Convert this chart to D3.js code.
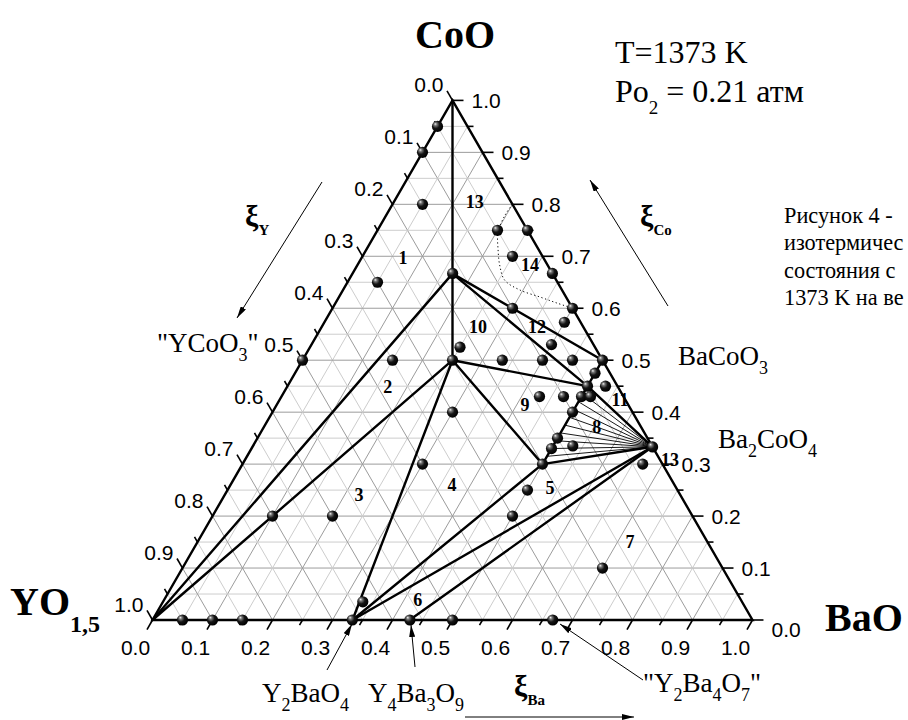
<!DOCTYPE html>
<html><head><meta charset="utf-8">
<script src="https://cdn.jsdelivr.net/npm/d3@7"></script>
<style>html,body{margin:0;padding:0;background:#fff;} svg{display:block;}</style>
</head><body>
<svg id="chart" width="908" height="720"></svg>
<script>
// ---------- DATA ----------
const tickValues = [0,0.1,0.2,0.3,0.4,0.5,0.6,0.7,0.8,0.9,1.0];
const tickLabels = ["0.0","0.1","0.2","0.3","0.4","0.5","0.6","0.7","0.8","0.9","1.0"];
const minorTickValues = [0.05,0.15,0.25,0.35,0.45,0.55,0.65,0.75,0.85,0.95];
const gridValues = [0.05,0.1,0.15,0.2,0.25,0.3,0.35,0.4,0.45,0.5,0.55,0.6,0.65,0.7,0.75,0.8,0.85,0.9,0.95];

// experimental compositions (mole fraction BaO, CoO)
const pointBa = [0,0,0.05,0.2,0.25,0.25,0.333,0.4,0.3,0.4,0.4,0.4,0.45,0.5,0.5,0.5,0.53,0.43,0.47,0.5,0.515,0.5,0.5,0.5,0.533,0.5,0.667,0.5,0.5,0.7,0.5,0.667,0.05,0.1,0.15,0.333,0.333,0.429,0.05,0,0.15,0.25,0.25,0.333,0.3,0.3,0.1,0.2,0.1667,0.667];
const pointCo = [0.95,0.9,0.8,0.75,0.75,0.7,0.667,0.6,0.6,0.573,0.53,0.5,0.5,0.5,0.475,0.45,0.45,0.43,0.43,0.43,0.43,0.4,0.35,0.33,0.335,0.3,0.3,0.25,0.2,0.1,0,0,0,0,0,0,0.035,0,0.65,0.5,0.5,0.525,0.5,0.5,0.4,0.3,0.2,0.2,0.667,0.333];

// phase nodes
const nodeNames = ["YO","BaO","CoO","YBaCo4O7","YBaCo2O5","C","D","BaCoO3","Ba2CoO4","Y2BaO4","Y4Ba3O9"];
const nodeBa = [0,1,0,1/6,0.25,0.5,0.5,0.5,2/3,1/3,3/7];
const nodeCo = [0,0,1,2/3,0.5,0.45,0.3,0.5,1/3,0,0];

// phase boundaries (pairs of node names)
const boundaryFrom = ["CoO","YBaCo4O7","YO","YO","YBaCo2O5","YBaCo4O7","YBaCo4O7","YBaCo2O5","YBaCo2O5","D","C","D","D","Ba2CoO4","Ba2CoO4"];
const boundaryTo   = ["YBaCo4O7","YBaCo2O5","YBaCo4O7","YBaCo2O5","Y2BaO4","BaCoO3","C","C","D","BaCoO3","Ba2CoO4","Ba2CoO4","Y2BaO4","Y2BaO4","Y4Ba3O9"];

// tie lines from Ba2CoO4 to the Ba=0.5 line (CoO fraction)
const tieLineCo = [0.315,0.33,0.345,0.36,0.375,0.39,0.405,0.42,0.435];

// dotted boundary of field 14
const dottedBa = [0.2,0.198,0.2025,0.22,0.2385,0.26,0.295,0.335,0.369,0.4];
const dottedCo = [0.8,0.779,0.747,0.712,0.681,0.654,0.635,0.6216,0.61,0.6];

// field numbers
const regionText = ["1","2","3","4","5","6","7","8","9","10","11","12","13","13","14"];
const regionBa = [0.069,0.168,0.224,0.369,0.5355,0.423,0.721,0.555,0.414,0.2605,0.5675,0.3588,0.135,0.7085,0.2875];
const regionCo = [0.697,0.448,0.2406,0.26,0.254,0.0385,0.15,0.371,0.414,0.564,0.423,0.564,0.804,0.308,0.683];

// caption lines (as visible)
const captionLines = ["Рисунок 4 -","изотермичес","состояния с","1373 K на ве"];

// ---------- SETUP ----------
const svg = d3.select("#chart");
const X = d3.scaleLinear().domain([0,1]).range([152.5,752.5]);
const Yc = d3.scaleLinear().domain([0,1]).range([620,620-519.6]);
const px = (ba,co) => X(ba + co/2);
const py = (ba,co) => Yc(co);
const serif = "'Liberation Serif','Times New Roman',serif";
const sans = "'Liberation Sans',Arial,sans-serif";

const defs = svg.append("defs");
const grad = defs.append("radialGradient").attr("id","ball").attr("cx","0.4").attr("cy","0.4").attr("r","0.6").attr("fx","0.3").attr("fy","0.28");
grad.append("stop").attr("offset","0%").attr("stop-color","#f4f4f4");
grad.append("stop").attr("offset","22%").attr("stop-color","#777");
grad.append("stop").attr("offset","55%").attr("stop-color","#151515");
grad.append("stop").attr("offset","100%").attr("stop-color","#000");
defs.append("marker").attr("id","arr").attr("viewBox","0 0 12 6").attr("refX",12).attr("refY",3)
  .attr("markerWidth",12).attr("markerHeight",6).attr("markerUnits","userSpaceOnUse").attr("orient","auto")
  .append("path").attr("d","M0,0 L12,3 L0,6 Z").attr("fill","#000");

// ---------- GRID ----------
const grid = svg.append("g");
gridValues.forEach(v => {
  const major = Math.abs(v*10 - Math.round(v*10)) < 1e-6;
  const col = major ? "#9c9c9c" : "#cdcdcd";
  grid.append("line").attr("x1",px(0,v)).attr("y1",py(0,v)).attr("x2",px(1-v,v)).attr("y2",py(1-v,v)).attr("stroke",col).attr("stroke-width",1);
  grid.append("line").attr("x1",px(v,0)).attr("y1",py(v,0)).attr("x2",px(v,1-v)).attr("y2",py(v,1-v)).attr("stroke",col).attr("stroke-width",1);
  grid.append("line").attr("x1",px(1-v,0)).attr("y1",py(1-v,0)).attr("x2",px(0,1-v)).attr("y2",py(0,1-v)).attr("stroke",col).attr("stroke-width",1);
});

// ---------- TIE LINES ----------
const g2 = svg.append("g");
tieLineCo.forEach(c => {
  g2.append("line").attr("x1",px(2/3,1/3)).attr("y1",py(2/3,1/3)).attr("x2",px(0.5,c)).attr("y2",py(0.5,c))
    .attr("stroke","#000").attr("stroke-width",0.9);
});

// dotted
svg.append("path").datum(dottedBa.map((b,i)=>[px(b,dottedCo[i]),py(b,dottedCo[i])]))
  .attr("d",d3.line().curve(d3.curveCatmullRom)).attr("fill","none").attr("stroke","#000").attr("stroke-width",1).attr("stroke-dasharray","1.2,2.6");

// ---------- BOUNDARIES ----------
const idx = n => nodeNames.indexOf(n);
boundaryFrom.forEach((f,i) => {
  const a = idx(f), b = idx(boundaryTo[i]);
  svg.append("line").attr("x1",px(nodeBa[a],nodeCo[a])).attr("y1",py(nodeBa[a],nodeCo[a]))
    .attr("x2",px(nodeBa[b],nodeCo[b])).attr("y2",py(nodeBa[b],nodeCo[b]))
    .attr("stroke","#000").attr("stroke-width",2.4).attr("stroke-linecap","round");
});

svg.append("path").attr("d",`M${px(0,0)},${py(0,0)}L${px(1,0)},${py(1,0)}L${px(0,1)},${py(0,1)}Z`)
  .attr("fill","none").attr("stroke","#000").attr("stroke-width",2.4).attr("stroke-linejoin","miter");

// ---------- TICKS ----------
const axes = [
  {pt: v => [px(v,0),py(v,0)], dir:[-0.5,0.866]},
  {pt: v => [px(1-v,v),py(1-v,v)], dir:[1,0]},
  {pt: v => [px(0,1-v),py(0,1-v)], dir:[-0.5,-0.866]}
];
const tg = svg.append("g").attr("stroke","#000").attr("stroke-width",1.6);
axes.forEach(ax => {
  tickValues.forEach(v => { const [x,y]=ax.pt(v); tg.append("line").attr("x1",x).attr("y1",y).attr("x2",x+ax.dir[0]*11).attr("y2",y+ax.dir[1]*11); });
  minorTickValues.forEach(v => { const [x,y]=ax.pt(v); tg.append("line").attr("x1",x).attr("y1",y).attr("x2",x+ax.dir[0]*6).attr("y2",y+ax.dir[1]*6); });
});
const lab = svg.append("g").attr("font-family",sans).attr("font-size",21).attr("fill","#000");
tickValues.forEach((v,i) => {
  let [x,y] = axes[0].pt(v);
  lab.append("text").attr("x",x-17).attr("y",y+35).attr("text-anchor","middle").text(tickLabels[i]);
  [x,y] = axes[1].pt(v);
  lab.append("text").attr("x",x+19).attr("y",y+7.5 + (v===0?9:0)).attr("text-anchor","start").text(tickLabels[i]);
  [x,y] = axes[2].pt(v);
  lab.append("text").attr("x",x-9).attr("y",y-8).attr("text-anchor","end").text(tickLabels[i]);
});

// ---------- POINTS ----------
svg.append("g").selectAll("circle").data(pointBa).join("circle")
  .attr("cx",(d,i)=>px(d,pointCo[i])).attr("cy",(d,i)=>py(d,pointCo[i])).attr("r",5.6).attr("fill","url(#ball)");

// ---------- FIELD NUMBERS ----------
svg.append("g").attr("font-family",serif).attr("font-weight","bold").attr("font-size",18)
  .selectAll("text").data(regionText).join("text")
  .attr("x",(d,i)=>px(regionBa[i],regionCo[i])).attr("y",(d,i)=>py(regionBa[i],regionCo[i])+6)
  .attr("text-anchor","middle").text(d=>d);

// ---------- VERTEX LABELS ----------
const vl = svg.append("g").attr("font-family",serif).attr("font-weight","bold").attr("fill","#000");
vl.append("text").attr("x",455).attr("y",48).attr("font-size",40).attr("text-anchor","middle").text("CoO");
const yo = vl.append("text").attr("x",10).attr("y",615).attr("font-size",40);
yo.append("tspan").text("YO");
yo.append("tspan").attr("font-size",24).attr("dy",17).text("1,5");
vl.append("text").attr("x",825).attr("y",631).attr("font-size",40).text("BaO");

// ---------- CONDITIONS ----------
const cond = svg.append("g").attr("font-family",serif).attr("font-size",32).attr("fill","#000");
cond.append("text").attr("x",615).attr("y",63).text("T=1373 K");
const po = cond.append("text").attr("x",615).attr("y",102);
po.append("tspan").text("Po");
po.append("tspan").attr("font-size",19).attr("dy",12).text("2");
po.append("tspan").attr("dy",-12).text(" = 0.21 атм");

const cap = svg.append("g").attr("font-family",serif).attr("font-size",22.3).attr("fill","#000");
captionLines.forEach((t,i)=>{
  cap.append("text").attr("x",784).attr("y",223+i*27.3).text(t);
});

// ---------- AXIS TITLES & ARROWS ----------
function xi(x,y,sub){
  const t = svg.append("text").attr("x",x).attr("y",y).attr("font-family",serif).attr("font-weight","bold").attr("font-size",30);
  t.append("tspan").text("ξ");
  t.append("tspan").attr("font-size",15).attr("dy",9).text(sub);
}
xi(245,226,"Y");
xi(640,226,"Co");
xi(514,696,"Ba");
function arrow(x1,y1,x2,y2){
  svg.append("line").attr("x1",x1).attr("y1",y1).attr("x2",x2).attr("y2",y2).attr("stroke","#000").attr("stroke-width",1).attr("marker-end","url(#arr)");
}
arrow(322,182,237,318);
arrow(668,306,590,180);
arrow(465,717,634,717);

// ---------- COMPOUND ANNOTATIONS ----------
const an = svg.append("g").attr("font-family",serif).attr("font-size",27).attr("fill","#000");
function chem(x,y,parts){
  const t = an.append("text").attr("x",x).attr("y",y);
  let sub=false;
  parts.forEach(p=>{
    const isSub = p.startsWith("_");
    const s = t.append("tspan").text(isSub?p.slice(1):p);
    if(isSub && !sub){ s.attr("dy",9).attr("font-size",18); sub=true; }
    else if(isSub){ s.attr("font-size",18); }
    else if(!isSub && sub){ s.attr("dy",-9); sub=false; }
  });
}
chem(157,352,["\"YCoO","_3","\""]);
chem(678,365,["BaCoO","_3"]);
chem(718,448,["Ba","_2","CoO","_4"]);
chem(262,702,["Y","_2","BaO","_4"]);
chem(368,702,["Y","_4","Ba","_3","O","_9"]);
chem(643,692,["\"Y","_2","Ba","_4","O","_7","\""]);
arrow(327,670,352,624);
arrow(415,667,411,625);
arrow(643,680,560,624);
</script>
</body></html>
